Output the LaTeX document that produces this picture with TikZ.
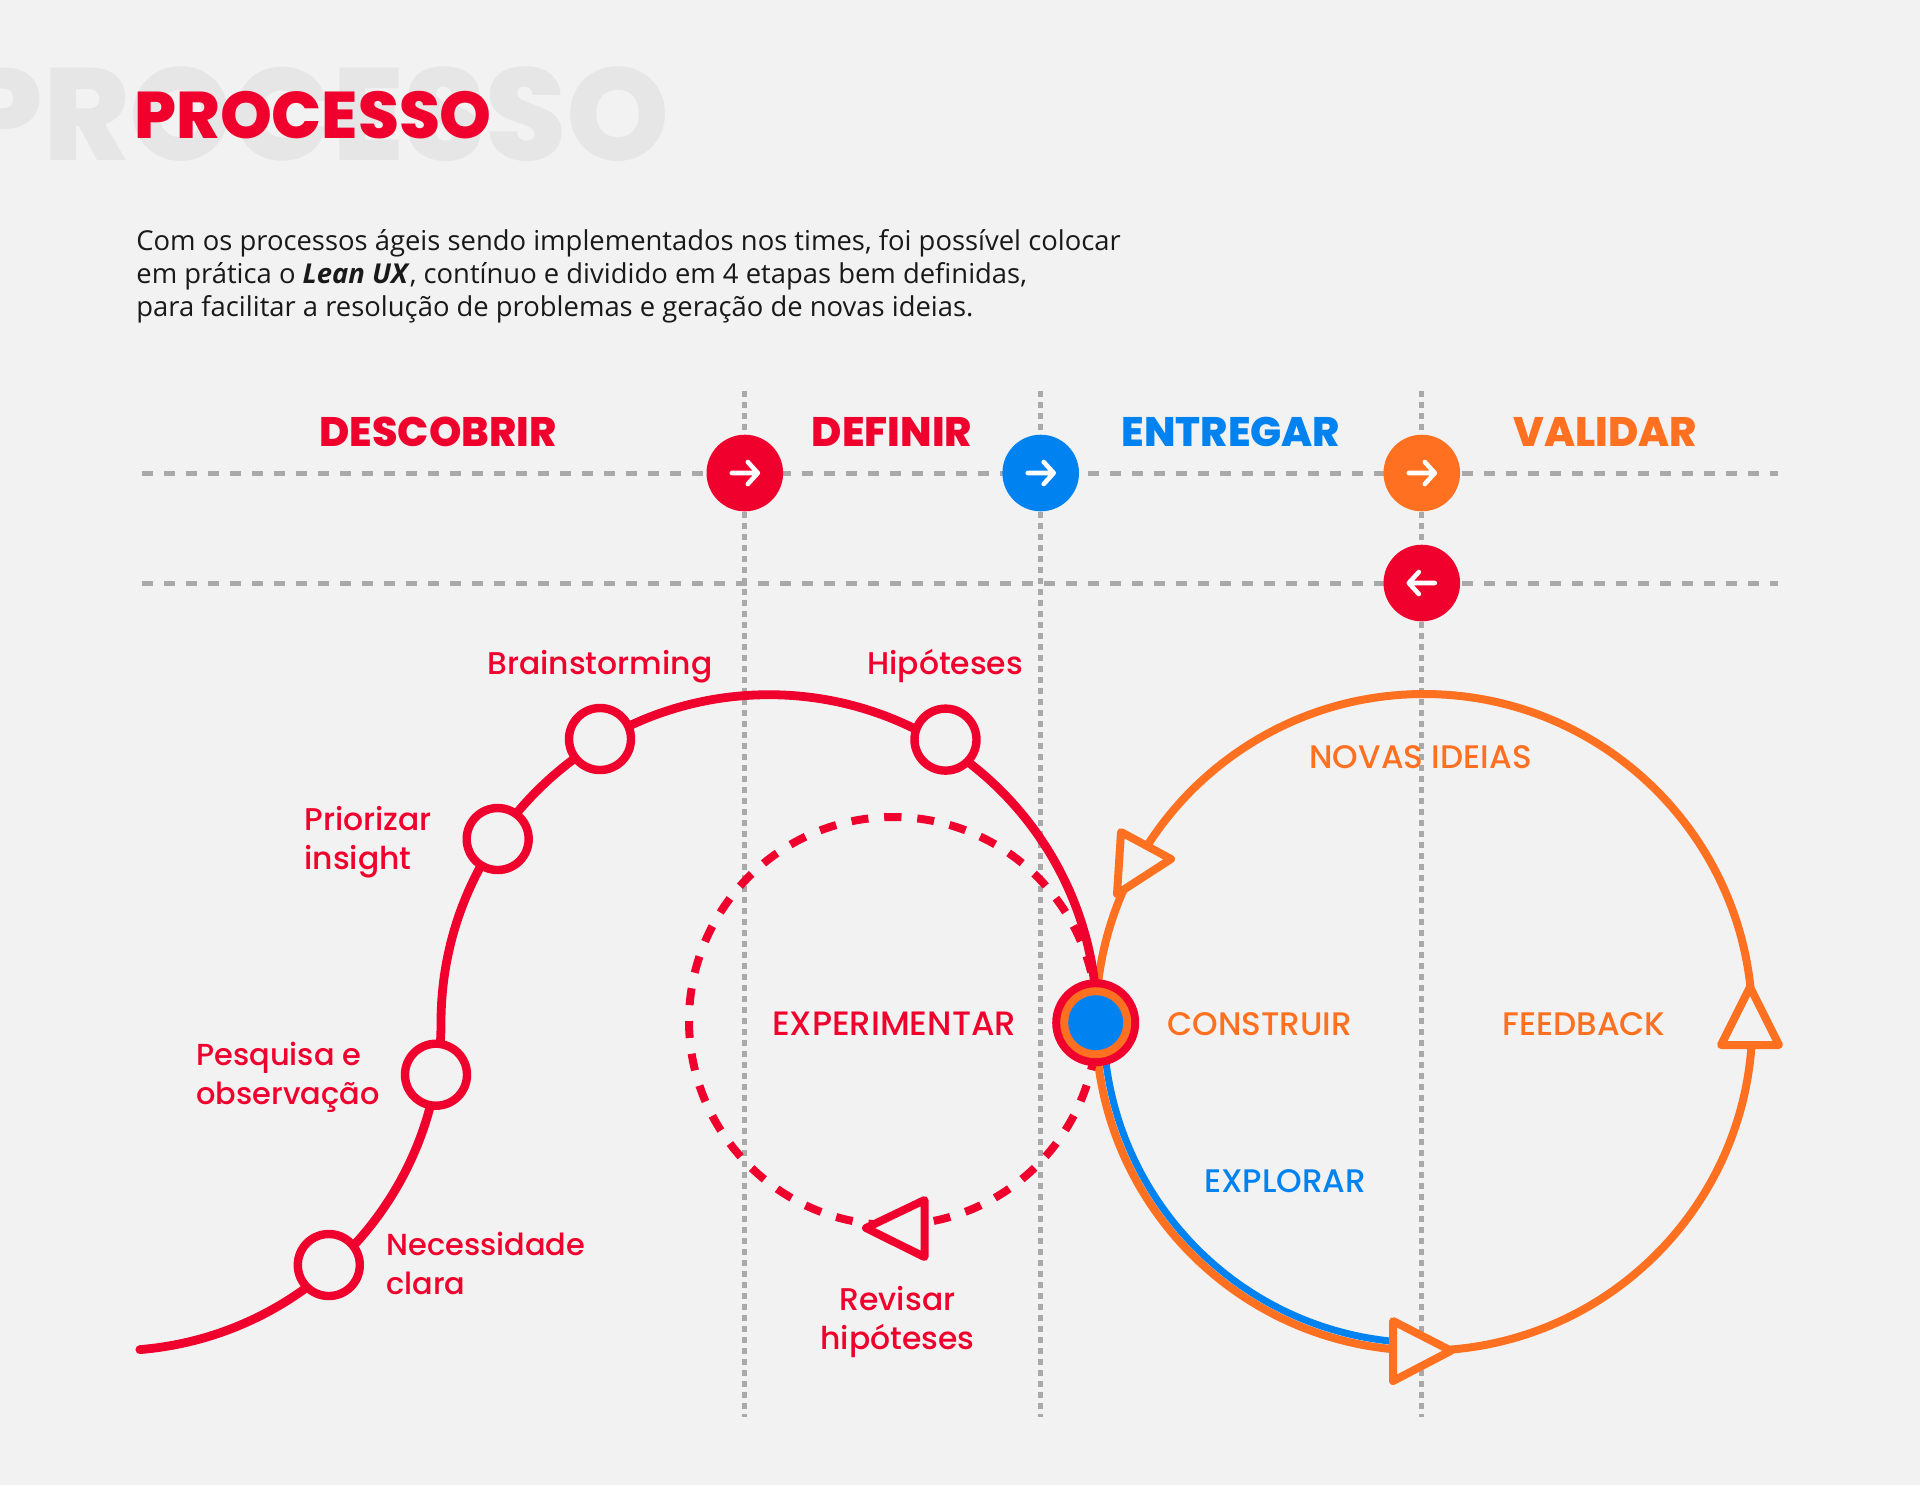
\documentclass[tikz,border=0pt]{standalone}
\usepackage{fontspec}
\setmainfont{Open Sans}
\newfontfamily\headfont{Poppins}[UprightFont=*-ExtraBold,BoldFont=*-ExtraBold]
\newfontfamily\labelfont{Poppins}[UprightFont=*-Medium]
\definecolor{bgc}{HTML}{F2F2F2}
\definecolor{redc}{HTML}{F0002D}
\definecolor{bluec}{HTML}{0082F0}
\definecolor{orangec}{HTML}{FF7020}
\definecolor{gridc}{HTML}{A9A9A9}
\definecolor{ghostc}{HTML}{E6E6E6}
\tikzset{
  gridv/.style={gridc, line width=2.5pt, dash pattern=on 2.75pt off 2.75pt},
  gridh/.style={gridc, line width=2.5pt, dash pattern=on 5.5pt off 5.5pt},
  stepdot/.style={circle, inner sep=0pt, minimum size=38.3pt},
  arw/.style={white, line width=2.3pt, line cap=round, line join=round},
  stagetxt/.style={font=\headfont\fontsize{20.6}{24}\selectfont},
  lbl/.style={font=\labelfont\fontsize{15.7}{19.5}\selectfont, align=left, inner sep=0pt},
  smalllbl/.style={font=\labelfont\fontsize{15.2}{19.5}\selectfont, align=left, inner sep=0pt},
  capslbl/.style={font=\labelfont\fontsize{16.3}{19.5}\selectfont, inner sep=0pt},
  ring/.style={circle, draw=redc, fill=bgc, line width=4.2pt, inner sep=0pt, minimum size=31pt},
  tri/.style={draw=#1, fill=bgc, line width=4pt, line join=round},
}
\begin{document}
\begin{tikzpicture}[x=0.5pt, y=-0.5pt]
  \fill[bgc, use as bounding box] (0,0) rectangle (1920,1485);
  % ---------------------------------------------------------------- heading
  \node[font=\headfont\fontsize{65.5}{70}\selectfont, text=ghostc, anchor=base east, inner sep=0pt] (ghost) at (670,160.5) {PROCESSO};
  \node[font=\headfont\fontsize{33}{36}\selectfont, text=redc, anchor=base west, inner sep=0pt] (title) at (134,138) {PROCESSO};
  \node[anchor=west, align=left, inner sep=0pt, text=black!90, font=\fontsize{13.7}{16.5}\selectfont] (intro) at (136,276)
    {Com os processos ágeis sendo implementados nos times, foi possível colocar\\
     em prática o \textbf{\textit{Lean UX}}, contínuo e dividido em 4 etapas bem definidas,\\
     para facilitar a resolução de problemas e geração de novas ideias.};
  % ---------------------------------------------------------------- the grid
  \foreach \gx in {744.8,1040.7,1421.8}
    \draw[gridv] (\gx,391) -- (\gx,1417);
  \foreach \gy in {473,583}
    \draw[gridh] (142,\gy) -- (1778,\gy);
  % the stage markers
  \node[stepdot, fill=redc] (stepa) at (744.8,473) {};
  \node[stepdot, fill=bluec] (stepb) at (1040.7,473) {};
  \node[stepdot, fill=orangec] (stepc) at (1421.8,473) {};
  \node[stepdot, fill=redc] (stepd) at (1421.8,583) {};
  \foreach \st in {stepa,stepb,stepc}
    \draw[arw, shift={(\st)}] (-13,0) -- (13,0) (3,-11) -- (13,0) -- (3,11);
  \draw[arw, shift={(stepd)}] (13,0) -- (-13,0) (-3,-11) -- (-13,0) -- (-3,11);
  \node[stagetxt, text=redc] (descobrir) at (438,432) {DESCOBRIR};
  \node[stagetxt, text=redc] (definir) at (892,432) {DEFINIR};
  \node[stagetxt, text=bluec] (entregar) at (1231,432) {ENTREGAR};
  \node[stagetxt, text=orangec] (validar) at (1605,432) {VALIDAR};
  % ---------------------------------------------------------------- the loops; all radii 328 but the dashed one
  \draw[orangec, line width=4pt] (1424,1022.3) circle (328.3);
  \draw[bluec, line width=3.5pt] (1424,1022.3) ++(180:320.5) arc (180:96:320.5);
  \draw[redc, line width=4pt, dash pattern=on 8.5pt off 7.93pt] (893,1021) ++(267.6:204) arc (267.6:627.6:204);
  \draw[redc, line width=4.4pt, line cap=round] (113,1022.7) ++(85.3:328) arc (85.3:0:328) arc (180:360:328);
  % the triangles on the loops
  \draw[tri=orangec] (1121,832) -- (1171,859) -- (1117,894) -- cycle;
  \draw[tri=orangec] (1721,1045) -- (1779,1045) -- (1750,987) -- cycle;
  \draw[tri=orangec] (1393,1321) -- (1451,1350.7) -- (1393,1381) -- cycle;
  \draw[tri=redc] (866,1228) -- (924.5,1200) -- (924.5,1257) -- cycle;
  % the rings
  \node[ring] (necessidade) at (328.8,1265) {};
  \node[ring] (pesquisa) at (436,1074.7) {};
  \node[ring] (priorizar) at (497.7,839) {};
  \node[ring] (brain) at (600,739) {};
  \node[ring] (hipoteses) at (945.5,739.6) {};
  % the hub where the loops meet
  \node[circle, fill=redc, inner sep=0pt, minimum size=43.5pt] (hubr) at (1095.7,1022.7) {};
  \node[circle, fill=orangec, inner sep=0pt, minimum size=35.5pt] (hubo) at (hubr) {};
  \node[circle, fill=bluec, inner sep=0pt, minimum size=27.5pt] (hubb) at (hubr) {};
  % ---------------------------------------------------------------- labels
  \foreach \nm/\lx/\ly/\tx in {
      lbrain/487/667/Brainstorming,
      lhipo/867/666/Hipóteses,
      lprior/304/842/{Priorizar\\insight}}
    \node[lbl, text=redc, anchor=west] (\nm) at (\lx,\ly) {\tx};
  \node[smalllbl, text=redc, anchor=west] (lpesq) at (196,1077.5) {Pesquisa e\\observação};
  \node[smalllbl, text=redc, anchor=west] (lneces) at (386,1263) {Necessidade\\clara};
  \node[lbl, text=redc, align=center] (lrevisar) at (897.5,1321.5) {Revisar\\hipóteses};
  \node[capslbl, text=redc, font=\labelfont\fontsize{16.9}{19.5}\selectfont] (lexper) at (894,1024) {EXPERIMENTAR};
  \node[capslbl, text=orangec, anchor=west] (lconstruir) at (1167,1024) {CONSTRUIR};
  \node[capslbl, text=orangec, anchor=west] (lfeedback) at (1502,1024) {FEEDBACK};
  \node[capslbl, text=orangec] (lnovas) at (1420.5,757) {NOVAS IDEIAS};
  \node[capslbl, text=bluec] (lexplorar) at (1285,1181) {EXPLORAR};
\end{tikzpicture}
\end{document}
